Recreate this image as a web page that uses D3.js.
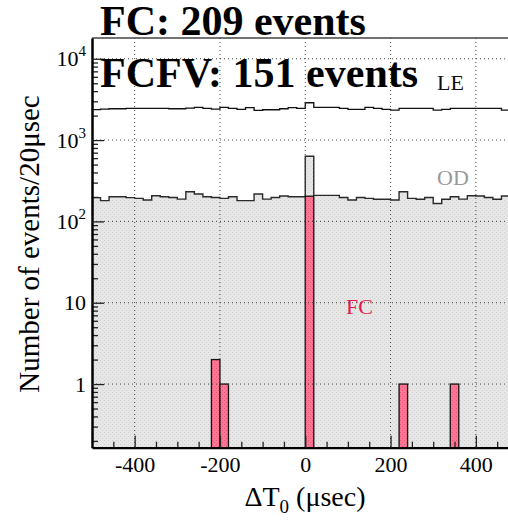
<!DOCTYPE html>
<html lang="en">
<head>
<meta charset="UTF-8">
<title>Delta T0 distribution</title>
<script src="https://d3js.org/d3.v7.min.js"></script>
<style>
    body { margin: 0; background: #fff; }
    svg { display: block; background: #fff; }
    text { font-family: 'Liberation Serif', 'DejaVu Serif', serif; }
</style>
</head>
<body>
<div id="chart"></div>
<script>
    // 20 usec bins, lower edges
    var binLow = [-500, -480, -460, -440, -420, -400, -380, -360, -340, -320,
                  -300, -280, -260, -240, -220, -200, -180, -160, -140, -120,
                  -100, -80, -60, -40, -20, 0, 20, 40, 60, 80,
                  100, 120, 140, 160, 180, 200, 220, 240, 260, 280,
                  300, 320, 340, 360, 380, 400, 420, 440, 460, 480];
    var binWidth = 20;

    // LE sample (black line)
    var leCounts = [2370, 2405, 2428, 2428, 2450, 2450, 2450, 2450, 2450, 2428,
                    2428, 2477, 2523, 2450, 2405, 2523, 2450, 2383, 2510, 2316,
                    2360, 2360, 2428, 2500, 2450, 2876, 2520, 2520, 2520, 2450,
                    2385, 2385, 2520, 2450, 2383, 2338, 2450, 2450, 2450, 2450,
                    2338, 2383, 2450, 2450, 2450, 2450, 2450, 2450, 2338, 2400];

    // OD sample (grey filled)
    var odCounts = [196, 180, 201, 201, 196, 192, 183, 207, 201, 197,
                    188, 232, 217, 201, 197, 192, 201, 180, 180, 217,
                    188, 197, 205, 201, 201, 633, 209, 209, 209, 197,
                    183, 197, 192, 187, 187, 183, 232, 192, 187, 197,
                    166, 187, 201, 188, 207, 205, 197, 187, 205, 200];

    // FC sample (red bars), only non-empty bins
    var fcLow = [-220, -200, 0, 220, 340];
    var fcCounts = [2, 1, 204, 1, 1];

    var xMajor = [-400, -200, 0, 200, 400];
    var yMajor = [1, 10, 100, 1000, 10000];
    var yLabels = ['1', '10', '10|2', '10|3', '10|4'];

    var width = 508, height = 524;
    var mLeft = 92, mRight = 518.5, mTop = 38, mBottom = 447.7;

    var svg = d3.select('#chart').append('svg')
        .attr('width', width)
        .attr('height', height);

    var defs = svg.append('defs');
    var grey = defs.append('pattern').attr('id', 'greyfill')
        .attr('width', 4).attr('height', 4).attr('patternUnits', 'userSpaceOnUse');
    grey.append('rect').attr('width', 4).attr('height', 4).attr('fill', '#e6e6e6');
    grey.append('rect').attr('x', 0).attr('y', 0).attr('width', 1).attr('height', 1).attr('fill', '#d2d2d2');
    grey.append('rect').attr('x', 2).attr('y', 2).attr('width', 1).attr('height', 1).attr('fill', '#d2d2d2');

    var pink = defs.append('pattern').attr('id', 'pinkfill')
        .attr('width', 4).attr('height', 4).attr('patternUnits', 'userSpaceOnUse');
    pink.append('rect').attr('width', 4).attr('height', 4).attr('fill', '#ff7593');
    pink.append('rect').attr('x', 0).attr('y', 0).attr('width', 1).attr('height', 1).attr('fill', '#e95878');
    pink.append('rect').attr('x', 2).attr('y', 2).attr('width', 1).attr('height', 1).attr('fill', '#e95878');

    var x = d3.scaleLinear().domain([-500, 500]).range([mLeft, mRight]);
    var y = d3.scaleLog().domain([0.165, 18000]).range([mBottom, mTop]);

    function steps(counts) {
        var pts = binLow.map(function(b, i) { return [b, counts[i]]; });
        pts.push([binLow[binLow.length - 1] + binWidth, counts[counts.length - 1]]);
        return pts;
    }

    var plot = svg.append('g');

    // OD filled histogram
    plot.append('path')
        .datum(steps(odCounts))
        .attr('fill', 'url(#greyfill)')
        .attr('d', d3.area().curve(d3.curveStepAfter)
            .x(function(d) { return x(d[0]); })
            .y0(mBottom)
            .y1(function(d) { return y(d[1]); }));

    plot.append('path')
        .datum(steps(odCounts))
        .attr('fill', 'none')
        .attr('stroke', '#2a2a2a')
        .attr('stroke-width', 1.4)
        .attr('d', d3.line().curve(d3.curveStepAfter)
            .x(function(d) { return x(d[0]); })
            .y(function(d) { return y(d[1]); }));

    // FC bars
    plot.selectAll('rect.fc')
        .data(fcLow.map(function(b, i) { return { low: b, n: fcCounts[i] }; }))
        .join('rect')
        .attr('class', 'fc')
        .attr('x', function(d) { return x(d.low); })
        .attr('width', function(d) { return x(d.low + binWidth) - x(d.low); })
        .attr('y', function(d) { return y(d.n); })
        .attr('height', function(d) { return mBottom - y(d.n); })
        .attr('fill', 'url(#pinkfill)')
        .attr('stroke', '#111')
        .attr('stroke-width', 1.3);

    // LE line
    plot.append('path')
        .datum(steps(leCounts))
        .attr('fill', 'none')
        .attr('stroke', '#111')
        .attr('stroke-width', 1.3)
        .attr('d', d3.line().curve(d3.curveStepAfter)
            .x(function(d) { return x(d[0]); })
            .y(function(d) { return y(d[1]); }));

    // dotted grid
    var grid = svg.append('g').attr('stroke', '#444').attr('stroke-width', 1)
        .attr('stroke-dasharray', '1,3');
    grid.selectAll('line.vx').data(xMajor).join('line')
        .attr('class', 'vx')
        .attr('x1', function(d) { return x(d); }).attr('x2', function(d) { return x(d); })
        .attr('y1', mTop).attr('y2', mBottom);
    grid.selectAll('line.hy').data(yMajor).join('line')
        .attr('class', 'hy')
        .attr('x1', mLeft).attr('x2', width)
        .attr('y1', function(d) { return y(d); }).attr('y2', function(d) { return y(d); });

    // top frame
    svg.append('line')
        .attr('x1', mLeft).attr('x2', width).attr('y1', mTop).attr('y2', mTop)
        .attr('stroke', '#444').attr('stroke-width', 1.5);

    // x axis: minor ticks every 50, major every 200
    var xMinor = d3.range(-450, 500, 50).filter(function(v) { return xMajor.indexOf(v) < 0; });
    svg.append('g')
        .attr('transform', 'translate(0,' + mBottom + ')')
        .call(d3.axisBottom(x).tickValues(xMinor).tickSize(-6).tickSizeOuter(0).tickFormat(''))
        .call(function(g) { g.select('.domain').remove(); })
        .selectAll('line').attr('stroke', '#222').attr('stroke-width', 1.3);

    var xAxis = svg.append('g')
        .attr('transform', 'translate(0,' + mBottom + ')')
        .call(d3.axisBottom(x).tickValues(xMajor).tickSize(-12).tickSizeOuter(0).tickPadding(9)
            .tickFormat(function(d) { return String(d); }));
    xAxis.select('.domain').attr('stroke', '#000').attr('stroke-width', 2.2);
    xAxis.selectAll('line').attr('stroke', '#222').attr('stroke-width', 1.3);
    xAxis.selectAll('text')
        .attr('font-family', 'Liberation Serif')
        .attr('font-size', 22)
        .attr('fill', '#000');

    // y axis: minor ticks 2..9 per decade
    var yMinor = [];
    [0.1, 1, 10, 100, 1000].forEach(function(dec) {
        for (var m = 2; m <= 9; m++) yMinor.push(dec * m);
    });
    svg.append('g')
        .attr('transform', 'translate(' + mLeft + ',0)')
        .call(d3.axisLeft(y).tickValues(yMinor).tickSize(-6).tickSizeOuter(0).tickFormat(''))
        .call(function(g) { g.select('.domain').remove(); })
        .selectAll('line').attr('stroke', '#222').attr('stroke-width', 1.3);

    var yAxis = svg.append('g')
        .attr('transform', 'translate(' + mLeft + ',0)')
        .call(d3.axisLeft(y).tickValues(yMajor).tickSize(-12).tickSizeOuter(0).tickPadding(6)
            .tickFormat(function() { return ''; }));
    yAxis.select('.domain').attr('stroke', '#000').attr('stroke-width', 2.5);
    yAxis.selectAll('line').attr('stroke', '#222').attr('stroke-width', 1.3);
    yAxis.selectAll('.tick text').each(function(d, i) {
        var parts = yLabels[i].split('|');
        var t = d3.select(this)
            .attr('font-family', 'Liberation Serif')
            .attr('font-size', 22)
            .attr('fill', '#000');
        t.append('tspan').text(parts[0]);
        if (parts[1]) {
            t.attr('dy', '0.32em');
            t.append('tspan').attr('dy', -10).attr('font-size', 15).text(parts[1]);
        }
    });

    // axis titles
    var xt = svg.append('text')
        .attr('x', 305).attr('y', 506)
        .attr('text-anchor', 'middle')
        .attr('font-size', 28);
    xt.append('tspan').text('ΔT');
    xt.append('tspan').attr('font-size', 19).attr('dy', 7).text('0');
    xt.append('tspan').attr('dy', -7).text(' (μsec)');

    svg.append('text')
        .attr('transform', 'translate(39,244) rotate(-90)')
        .attr('text-anchor', 'middle')
        .attr('font-size', 29)
        .text('Number of events/20μsec');

    // sample labels
    svg.append('text').attr('x', 437).attr('y', 90)
        .attr('font-size', 22).attr('fill', '#111').text('LE');
    svg.append('text').attr('x', 437).attr('y', 185)
        .attr('font-size', 22).attr('fill', '#999').text('OD');
    svg.append('text').attr('x', 346).attr('y', 314)
        .attr('font-size', 22).attr('fill', '#e3194f').text('FC');

    // headline counts
    svg.append('text').attr('x', 100).attr('y', 35)
        .attr('font-size', 42).attr('font-weight', 'bold').text('FC: 209 events');
    svg.append('text').attr('x', 100).attr('y', 87)
        .attr('font-size', 42).attr('font-weight', 'bold').text('FCFV: 151 events');
</script>
</body>
</html>
